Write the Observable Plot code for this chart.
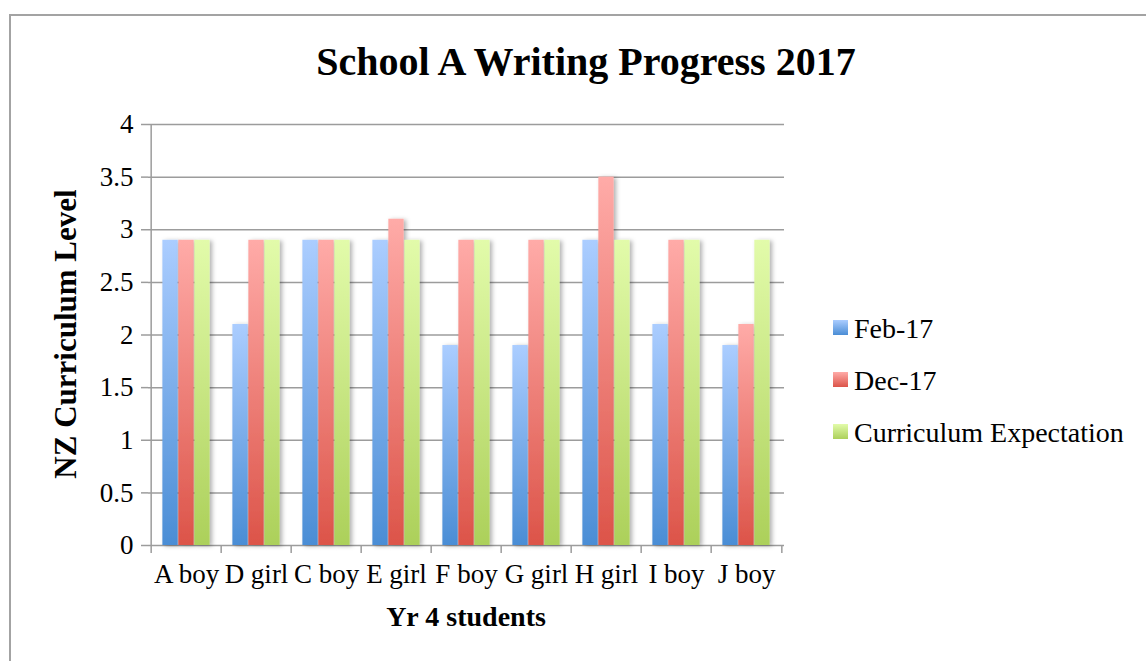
<!DOCTYPE html>
<html>
<head>
<meta charset="utf-8">
<script src="https://cdn.jsdelivr.net/npm/d3@7"></script>
<script src="https://cdn.jsdelivr.net/npm/@observablehq/plot@0.6"></script>
<style>
  html, body { margin: 0; padding: 0; background: #fff; overflow: hidden; }
  #wrap { position: relative; width: 1146px; height: 661px; overflow: hidden; font-family: "Liberation Serif", serif; color: #000; }
  #border { position: absolute; left: 9px; top: 14px; width: 1200px; height: 700px; border: 2px solid #a3a3a3; box-sizing: border-box; }
  #chart { position: absolute; left: 0; top: 0; }
  .lbl { position: absolute; line-height: 1; white-space: nowrap; }
  #title { left: 586px; top: 42px; transform: translateX(-50%); font-size: 40px; font-weight: bold; }
  #xtitle { left: 466px; top: 603px; transform: translateX(-50%); font-size: 28px; font-weight: bold; }
  #ytitle { left: 65px; top: 334px; transform: translate(-50%, -50%) rotate(-90deg); font-size: 31px; font-weight: bold; }
  #legend { position: absolute; left: 833px; top: 0; }
  .item { position: absolute; left: 0; white-space: nowrap; font-size: 28px; line-height: 1; }
  .sw { position: absolute; left: 0; width: 15px; height: 15px; }
  .txt { position: absolute; left: 21px; }
</style>
</head>
<body>
<div id="wrap">
  <div id="border"></div>
  <div id="chart"></div>
  <div id="title" class="lbl">School A Writing Progress 2017</div>
  <div id="xtitle" class="lbl">Yr 4 students</div>
  <div id="ytitle" class="lbl">NZ Curriculum Level</div>
  <div id="legend"></div>
</div>
<script>
// ---- data ----
const students = ["A boy", "D girl", "C boy", "E girl", "F boy", "G girl", "H girl", "I boy", "J boy"];
const feb17 = [2.9, 2.1, 2.9, 2.9, 1.9, 1.9, 2.9, 2.1, 1.9];
const dec17 = [2.9, 2.9, 2.9, 3.1, 2.9, 2.9, 3.5, 2.9, 2.1];
const expectation = [2.9, 2.9, 2.9, 2.9, 2.9, 2.9, 2.9, 2.9, 2.9];
const seriesNames = ["Feb-17", "Dec-17", "Curriculum Expectation"];
const yTicks = [0, 0.5, 1, 1.5, 2, 2.5, 3, 3.5, 4];
const xTitle = "Yr 4 students";
const yTitle = "NZ Curriculum Level";

// ---- styles ----
const gradients = [
  {id: "gBlue", top: "#abcdff", bottom: "#4a8dd5"},
  {id: "gRed", top: "#ffaba8", bottom: "#dc5449"},
  {id: "gGreen", top: "#e2fbaa", bottom: "#acd05a"}
];
const gridColor = "#9c9c9c";

const W = 1146, H = 661;
const mL = 148, mR = 362, mT = 124, mB = 116;
const step = (W - mL - mR) / students.length;
const barW = step * 0.226;
const groupPad = (step - 3 * barW) / 2;

const seriesValues = [feb17, dec17, expectation];
const tables = seriesValues.map(vals => students.map((s, i) => ({student: s, value: vals[i]})));

const barMarks = tables.map((tbl, k) => Plot.barY(tbl, {
  x: "student",
  y: "value",
  fill: `url(#${gradients[k].id})`,
  insetLeft: groupPad + k * barW,
  insetRight: groupPad + (2 - k) * barW
}));

const chart = Plot.plot({
  width: W,
  height: H,
  marginLeft: mL,
  marginRight: mR,
  marginTop: mT,
  marginBottom: mB,
  style: {fontFamily: "'Liberation Serif', serif", fontSize: "27px", color: "#000", background: "transparent", overflow: "visible"},
  x: {type: "band", domain: students, padding: 0, axis: null},
  y: {domain: [0, 4], axis: null},
  marks: [
    Plot.ruleY(yTicks, {stroke: gridColor, strokeWidth: 1.5}),
    Plot.ruleX([students[0]], {x: d => d, dx: -step / 2, y1: 0, y2: 4, stroke: gridColor, strokeWidth: 1.5}),
    Plot.ruleX(students, {x: d => d, dx: -step / 2, y1: 0, y2: 0, insetBottom: -8, stroke: gridColor, strokeWidth: 1.5}),
    Plot.ruleX([students[students.length - 1]], {x: d => d, dx: step / 2, y1: 0, y2: 0, insetBottom: -8, stroke: gridColor, strokeWidth: 1.5}),
    Plot.axisY({ticks: yTicks, tickSize: 7, tickPadding: 8, stroke: gridColor, strokeWidth: 1.5, tickFormat: d => String(d), label: null, fontSize: 27}),
    Plot.axisX({tickSize: 0, tickPadding: 18, label: null, fontSize: 27}),
    ...barMarks
  ]
});

// gradient + shadow defs
const svg = d3.select(chart);
const defs = svg.insert("defs", ":first-child");
gradients.forEach(g => {
  const lg = defs.append("linearGradient").attr("id", g.id).attr("x1", 0).attr("y1", 0).attr("x2", 0).attr("y2", 1);
  lg.append("stop").attr("offset", "0%").attr("stop-color", g.top);
  lg.append("stop").attr("offset", "100%").attr("stop-color", g.bottom);
});
const f = defs.append("filter").attr("id", "shadow").attr("x", "-10%").attr("y", "-10%").attr("width", "130%").attr("height", "120%");
f.append("feDropShadow").attr("dx", 2.5).attr("dy", 1).attr("stdDeviation", 2).attr("flood-color", "#000").attr("flood-opacity", 0.3);
svg.selectAll('g[aria-label="bar"]').attr("filter", "url(#shadow)");

document.getElementById("chart").appendChild(chart);
document.getElementById("xtitle").textContent = xTitle;
document.getElementById("ytitle").textContent = yTitle;

// legend
const legend = document.getElementById("legend");
const legendTop = 315;
seriesNames.forEach((name, k) => {
  const item = document.createElement("div");
  item.className = "item";
  item.style.top = (legendTop + k * 52) + "px";
  const sw = document.createElement("div");
  sw.className = "sw";
  sw.style.top = "5px";
  sw.style.background = `linear-gradient(${gradients[k].top}, ${gradients[k].bottom})`;
  const t = document.createElement("div");
  t.className = "txt";
  t.textContent = name;
  item.appendChild(sw);
  item.appendChild(t);
  legend.appendChild(item);
});
</script>
</body>
</html>
